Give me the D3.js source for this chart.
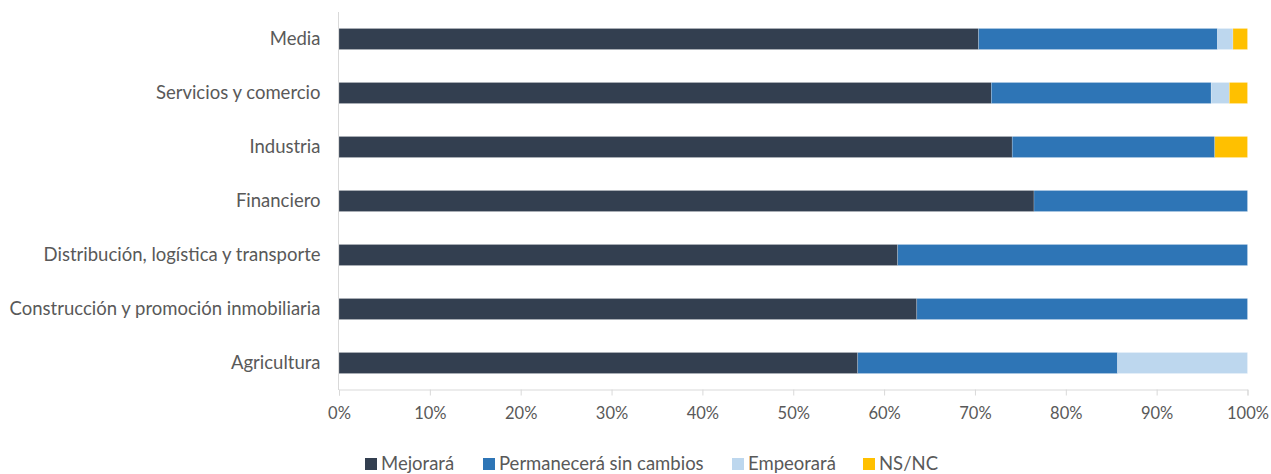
<!DOCTYPE html>
<html><head><meta charset="utf-8">
<script src="https://cdn.jsdelivr.net/npm/d3@7"></script>
<style>body{margin:0;background:#fff}svg{display:block}text{font-family:Lato,"Open Sans",sans-serif;fill:#595959}</style>
</head><body><svg id="c" width="1271" height="474"></svg>
<script>
const categories = ["Media","Servicios y comercio","Industria","Financiero","Distribución, logística y transporte","Construcción y promoción inmobiliaria","Agricultura"];
const seriesNames = ["Mejorará","Permanecerá sin cambios","Empeorará","NS/NC"];
const mejorara     = [70.4, 71.8, 74.1, 76.5, 61.5, 63.6, 57.1];
const permanecera  = [26.3, 24.2, 22.3, 23.5, 38.5, 36.4, 28.6];
const empeorara    = [1.7, 2.0, 0, 0, 0, 0, 14.3];
const nsnc         = [1.6, 2.0, 3.6, 0, 0, 0, 0];
const tickValues = [0,10,20,30,40,50,60,70,80,90,100];
const colors = ["#333f50","#2e75b6","#bdd7ee","#ffc000"];

const svg = d3.select("#c");
const x = d3.scaleLinear().domain([0,100]).range([339,1247.5]);
const y = d3.scaleBand().domain(categories).range([12,390]).paddingInner(0.61).paddingOuter(0.305);

const stackData = categories.map((c,i)=>({cat:c,
  [seriesNames[0]]:mejorara[i],[seriesNames[1]]:permanecera[i],[seriesNames[2]]:empeorara[i],[seriesNames[3]]:nsnc[i]}));
const stack = d3.stack().keys(seriesNames)(stackData);

svg.append("line").attr("x1",338.5).attr("x2",338.5).attr("y1",12).attr("y2",390).attr("stroke","#d9d9d9").attr("stroke-width",1);

const xAxis = svg.append("g").attr("transform","translate(0,389.5)")
  .call(d3.axisBottom(x).tickValues(tickValues).tickFormat(d=>d+"%").tickSize(6).tickPadding(12));
xAxis.select(".domain").attr("stroke","#d9d9d9");
xAxis.selectAll(".tick line").attr("stroke","#d9d9d9");
xAxis.selectAll("text").style("font-size","16.5px").style("font-family","Lato").attr("fill","#595959");

stack.forEach((layer,j)=>{
  svg.append("g").selectAll("rect").data(layer.filter(d=>d[1]>d[0])).join("rect")
    .attr("x",d=>x(d[0])).attr("width",d=>x(d[1])-x(d[0]))
    .attr("y",d=>y(d.data.cat)).attr("height",y.bandwidth())
    .attr("fill",colors[j]).attr("stroke","rgba(255,255,255,0.35)").attr("stroke-width",0.6);
});

const yAxis = svg.append("g").attr("transform","translate(338.5,0)")
  .call(d3.axisLeft(y).tickSize(0).tickPadding(18));
yAxis.select(".domain").remove();
yAxis.selectAll("text").style("font-size","18.5px").style("font-family","Lato").attr("fill","#595959");

const legX = [365, 483, 732, 863];
const leg = svg.append("g");
seriesNames.forEach((s,j)=>{
  leg.append("rect").attr("x",legX[j]).attr("y",458).attr("width",12).attr("height",12).attr("fill",colors[j]);
  leg.append("text").attr("x",legX[j]+16).attr("y",464).attr("dy","0.35em").style("font-size","18.5px").text(s);
});
</script></body></html>
